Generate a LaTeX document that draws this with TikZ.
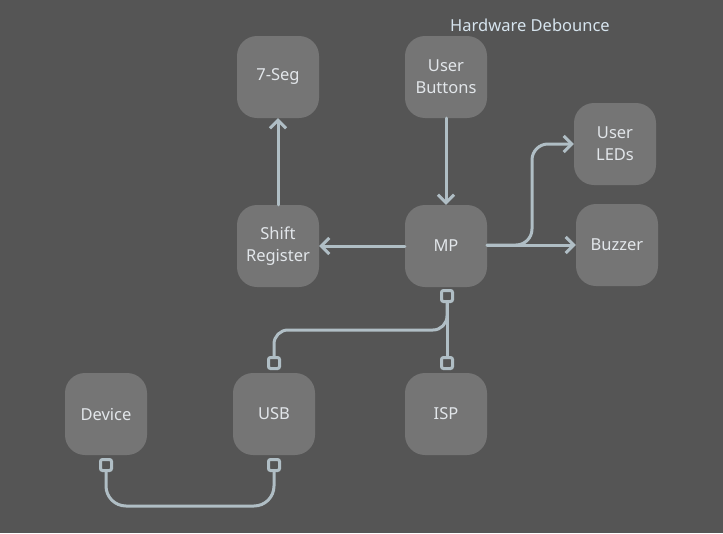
\documentclass[tikz,border=0pt]{standalone}
\usepackage{fontspec}
\setmainfont{Noto Sans}
\usetikzlibrary{arrows.meta}
\definecolor{bg}{HTML}{555555}
\definecolor{boxfill}{HTML}{757575}
\definecolor{txt}{HTML}{E2E6EA}
\definecolor{wire}{HTML}{B0BEC5}
\definecolor{title}{HTML}{D6E4EE}
\tikzset{
  blk/.style={rectangle, rounded corners=20pt, fill=boxfill, minimum width=82pt, minimum height=82pt,
    text=txt, align=center, font=\fontsize{16.5}{22}\selectfont, inner sep=0pt},
  port/.style={rectangle, rounded corners=2pt, draw=wire, line width=3pt, fill=bg, minimum size=11pt, inner sep=0pt},
  conn/.style={draw=wire, line width=3pt, line cap=round, line join=round},
  arr/.style={conn, -{Straight Barb[length=8pt, width=16pt, line width=3pt]}},
}
\begin{document}
\begin{tikzpicture}[x=1pt, y=-1pt]
\fill[bg] (0,0) rectangle (723,533);
\useasboundingbox (0,0) rectangle (723,533);

\node[text=title, font=\fontsize{16.5}{20}\selectfont] (hd) at (530,25) {Hardware Debounce};

\node[blk] (seg) at (278,77) {7-Seg};
\node[blk] (btn) at (446,77) {User\\Buttons};
\node[blk] (led) at (615,144) {User\\LEDs};
\node[blk] (sr) at (278,246) {Shift\\Register};
\node[blk] (mp) at (446,246) {MP};
\node[blk] (bz) at (617,245) {Buzzer};
\node[blk] (dev) at (106,414) {Device};
\node[blk] (usb) at (274,414) {USB};
\node[blk] (isp) at (446,414) {ISP};

\node[port] (mpP) at (447,296) {};
\node[port] (usbT) at (274,363) {};
\node[port] (ispT) at (447,363) {};
\node[port] (devB) at (106,465) {};
\node[port] (usbB) at (274,465) {};

\draw[arr] (sr.north) -- (seg.south);
\draw[arr] (btn.south) -- (mp.north);
\draw[arr] (mp.west) -- (sr.east);
\draw[arr] (mp.east |- bz.west) -- (bz.west);
\draw[arr, rounded corners=16pt] (mp.east |- bz.west) -- (532,245) -- (532,144) -- (led.west);

\draw[conn] (mpP.south) -- (ispT.north);
\draw[conn, rounded corners=14pt] (mpP.south) -- (447,330) -- (274,330) -- (usbT.north);
\draw[conn, rounded corners=20pt] (devB.south) -- (106,506) -- (274,506) -- (usbB.south);
\end{tikzpicture}
\end{document}
